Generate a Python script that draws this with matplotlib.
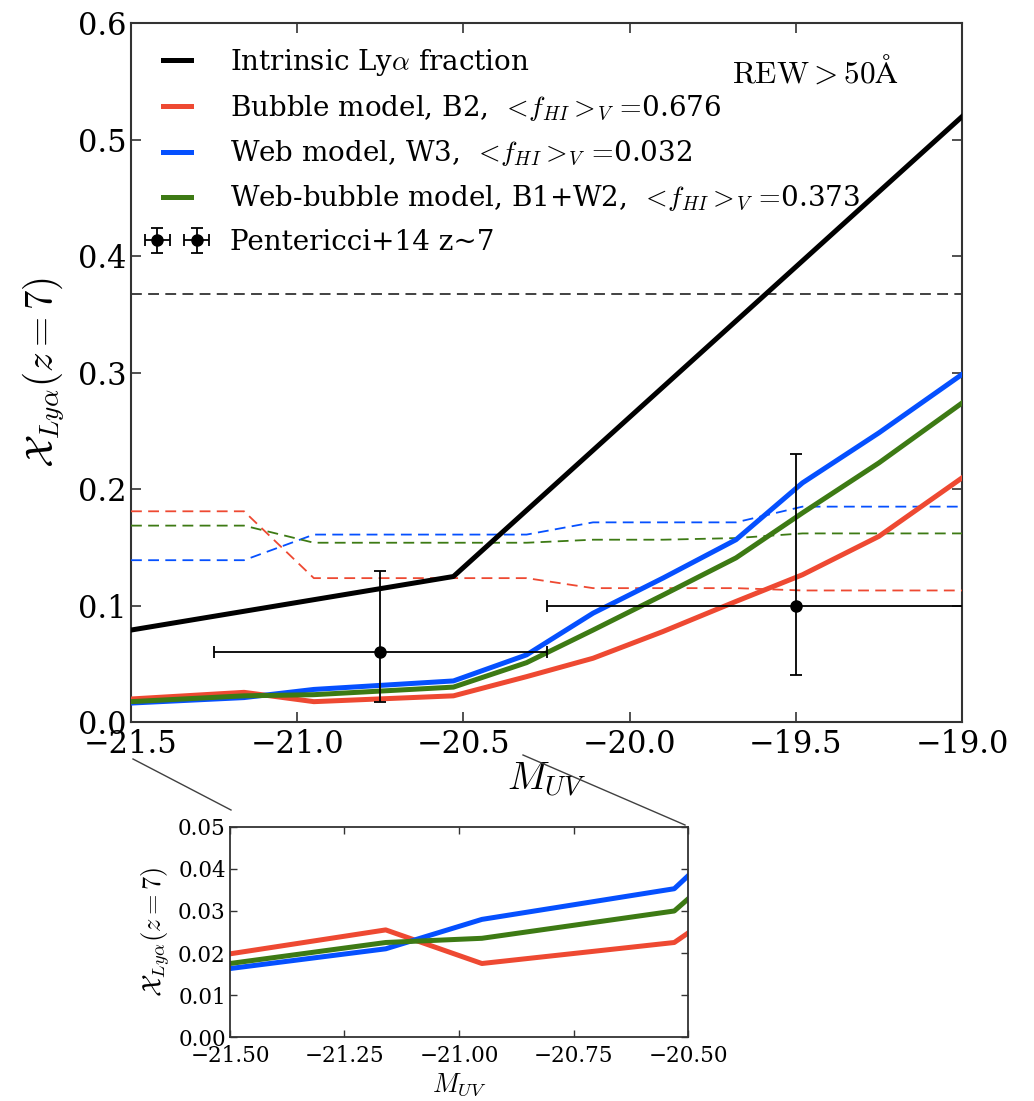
import matplotlib
matplotlib.use("Agg")
import matplotlib.pyplot as plt
from matplotlib.lines import Line2D
from matplotlib.ticker import FuncFormatter
from matplotlib.container import ErrorbarContainer
from matplotlib.legend_handler import HandlerErrorbar

plt.rcParams['font.family'] = ['DejaVu Serif']
plt.rcParams['mathtext.fontset'] = 'cm'
plt.rcParams['axes.unicode_minus'] = True

# ---------------- data ----------------
M_grid = [-21.5, -21.16, -20.95, -20.53, -20.31, -20.11, -19.90, -19.68, -19.48, -19.25, -19.0]
bubble = [0.0198, 0.0255, 0.0175, 0.0225, 0.039, 0.0548, 0.0777, 0.1036, 0.1265, 0.1595, 0.2097]
web = [0.0163, 0.021, 0.028, 0.0353, 0.0577, 0.0935, 0.1236, 0.1566, 0.2054, 0.2484, 0.2986]
webbubble = [0.0175, 0.0225, 0.0235, 0.030, 0.051, 0.079, 0.109, 0.141, 0.1796, 0.2226, 0.274]

bubble_ratio = [0.181, 0.181, 0.1236, 0.1236, 0.1236, 0.115, 0.115, 0.115, 0.113, 0.113, 0.113]
web_ratio = [0.139, 0.139, 0.161, 0.161, 0.161, 0.1715, 0.1715, 0.1715, 0.185, 0.185, 0.185]
webbubble_ratio = [0.1687, 0.1687, 0.154, 0.154, 0.154, 0.1566, 0.1566, 0.158, 0.162, 0.162, 0.162]

M_intrinsic = [-21.5, -20.53, -19.0]
intrinsic = [0.079, 0.125, 0.52]

hline_level = 0.368

obs_M = [-20.75, -19.5]
obs_x = [0.06, 0.10]
obs_Merr = [0.5, 0.75]
obs_err_lo = [0.043, 0.06]
obs_err_hi = [0.07, 0.13]

main_xticks = [-21.5, -21.0, -20.5, -20.0, -19.5, -19.0]
main_yticks = [0.0, 0.1, 0.2, 0.3, 0.4, 0.5, 0.6]
inset_xticks = [-21.5, -21.25, -21.0, -20.75, -20.5]
inset_yticks = [0.0, 0.01, 0.02, 0.03, 0.04, 0.05]

fHI = r'$\,<\!f_{HI}{>\!}_V\,=\!$'
labels = [r'Intrinsic Ly$\alpha$ fraction',
          'Bubble model, B2, ' + fHI + '0.676',
          'Web model, W3, ' + fHI + '0.032',
          'Web-bubble model, B1+W2, ' + fHI + '0.373',
          'Pentericci+14 z~7']

c_red = '#EE4932'
c_blue = '#0550FF'
c_green = '#3D7A14'
spine_c = '0.2'


def fmt(n):
    return FuncFormatter(lambda v, p: ('%.*f' % (n, v)).replace('-', '\u2212'))


fig = plt.figure(figsize=(10.34, 11.01), dpi=100)
ax = fig.add_axes([0.1267, 0.3442, 0.8037, 0.6345])

ax.plot(M_intrinsic, intrinsic, color='black', lw=3.6, label=labels[0], zorder=5)
ax.plot(M_grid, bubble, color=c_red, lw=3.6, label=labels[1], zorder=4)
ax.plot(M_grid, web, color=c_blue, lw=3.6, label=labels[2], zorder=4)
ax.plot(M_grid, webbubble, color=c_green, lw=3.6, label=labels[3], zorder=4)

ds = (0, (6, 3.5))
ax.plot(M_grid, bubble_ratio, color=c_red, lw=1.3, ls=ds, zorder=3)
ax.plot(M_grid, web_ratio, color=c_blue, lw=1.3, ls=ds, zorder=3)
ax.plot(M_grid, webbubble_ratio, color=c_green, lw=1.3, ls=ds, zorder=3)
ax.axhline(hline_level, color='0.2', lw=1.3, ls=ds, zorder=3)

ax.errorbar(obs_M, obs_x, xerr=obs_Merr, yerr=[obs_err_lo, obs_err_hi],
            fmt='o', color='black', ms=8, elinewidth=1.3, capsize=4, capthick=1.3,
            label=labels[4], zorder=6)

ax.set_xlim(-21.5, -19.0)
ax.set_ylim(0, 0.6)
ax.set_xticks(main_xticks)
ax.set_yticks(main_yticks)
ax.xaxis.set_major_formatter(fmt(1))
ax.yaxis.set_major_formatter(fmt(1))
ax.tick_params(direction='in', top=True, right=True, length=7, width=1.2,
               labelsize=22, color=spine_c)
ax.tick_params(axis='x', pad=5)
ax.tick_params(axis='y', pad=3)
for s in ax.spines.values():
    s.set_color(spine_c)
    s.set_linewidth(1.5)
ax.set_xlabel(r'$M_{UV}$', fontsize=28, labelpad=0)
ax.set_ylabel(r'$\mathcal{X}_{Ly\alpha}(z=7)$', fontsize=28, labelpad=8)

ax.text(0.723, 0.930, r'$\mathrm{REW}>50\mathrm{\AA}$', transform=ax.transAxes,
        fontsize=22.5, ha='left', va='center')

leg = ax.legend(loc='upper left', frameon=False, fontsize=20, numpoints=2,
                handlelength=1.62, handletextpad=1.1, labelspacing=0.56,
                borderaxespad=0.45,
                handler_map={ErrorbarContainer: HandlerErrorbar(marker_pad=0.1, numpoints=2,
                                                                xerr_size=0.45)})

# ---------------- inset ----------------
axi = fig.add_axes([0.2224, 0.0581, 0.443, 0.1908])
axi.plot(M_grid, bubble, color=c_red, lw=3.6)
axi.plot(M_grid, web, color=c_blue, lw=3.6)
axi.plot(M_grid, webbubble, color=c_green, lw=3.6)
axi.set_xlim(-21.5, -20.5)
axi.set_ylim(0, 0.05)
axi.set_xticks(inset_xticks)
axi.set_yticks(inset_yticks)
axi.xaxis.set_major_formatter(fmt(2))
axi.yaxis.set_major_formatter(fmt(2))
axi.tick_params(direction='in', top=True, right=True, length=5, width=1.0,
                labelsize=15.5, color=spine_c)
axi.tick_params(axis='x', pad=6)
axi.tick_params(axis='y', pad=3)
for s in axi.spines.values():
    s.set_color(spine_c)
    s.set_linewidth(1.3)
axi.set_xlabel(r'$M_{UV}$', fontsize=19, labelpad=3)
axi.set_ylabel(r'$\mathcal{X}_{Ly\alpha}(z=7)$', fontsize=19, labelpad=4)

# connector lines
for (x0, y0, x1, y1) in [(133, 759, 231, 810), (523, 755, 685, 825)]:
    fig.add_artist(Line2D([x0 / 1034, x1 / 1034], [1 - y0 / 1101, 1 - y1 / 1101],
                          transform=fig.transFigure, color='0.25', lw=1.0))

fig.savefig('out.png', dpi=100)
